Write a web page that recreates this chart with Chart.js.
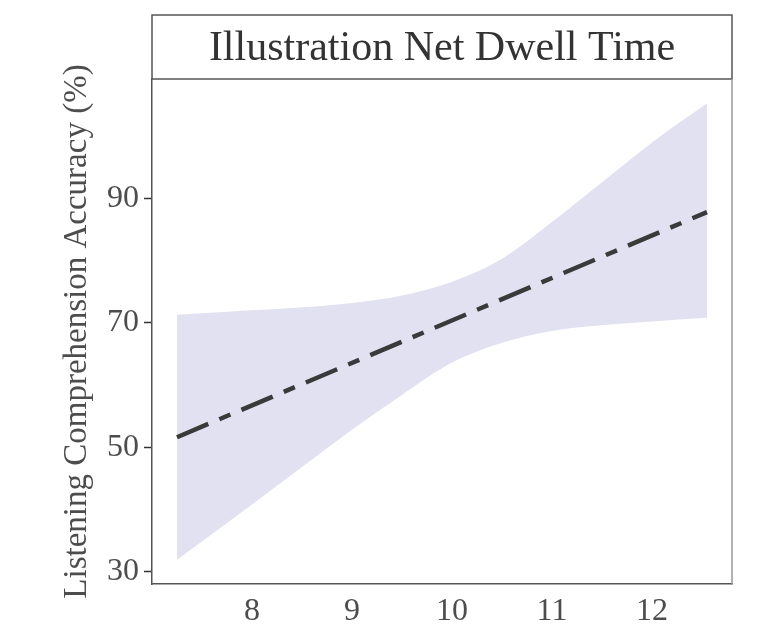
<!DOCTYPE html>
<html>

<head>
    <title>Illustration Net Dwell Time</title>
    <meta charset="UTF-8">
    <script src="https://cdn.jsdelivr.net/npm/chart.js@4.4.0/dist/chart.umd.min.js"></script>
    <style>
        body { margin: 0; background: #fff; }
    </style>
</head>

<body>
    <canvas id="myChart" width="758" height="627"></canvas>

    <script>
        // values
        var bandX = [7.25, 8, 8.5, 9, 9.5, 10, 10.5, 11, 11.5, 12, 12.55];
        var bandUpper = [71.3, 72, 72.5, 73.2, 74.4, 76.6, 80.3, 86.2, 92.6, 99, 105.3];
        var bandLower = [31.9, 40.8, 46.8, 52.8, 58.4, 63.6, 66.8, 68.7, 69.6, 70.2, 70.8];
        var fitX = [7.25, 12.55];
        var fitY = [51.6, 87.8];
        var xTicks = [8, 9, 10, 11, 12];
        var yTicks = [30, 50, 70, 90];
        var stripTitle = 'Illustration Net Dwell Time';

        function pairs(xs, ys) {
            return xs.map(function (x, i) { return { x: x, y: ys[i] }; });
        }

        var textColor = '#4d4d4d';
        var serif = '"Liberation Serif", "DejaVu Serif", serif';

        // facet strip on top of the panel + light right border
        var stripPlugin = {
            id: 'strip',
            afterDraw: function (chart) {
                var ctx = chart.ctx;
                var a = chart.chartArea;
                ctx.save();
                ctx.strokeStyle = '#555';
                ctx.lineWidth = 1.5;
                ctx.strokeRect(a.left, 15, a.right - a.left, a.top - 15);
                ctx.strokeStyle = '#999';
                ctx.beginPath();
                ctx.moveTo(a.right, a.top);
                ctx.lineTo(a.right, a.bottom);
                ctx.stroke();
                ctx.fillStyle = '#333';
                ctx.font = '42px ' + serif;
                ctx.textAlign = 'center';
                ctx.textBaseline = 'middle';
                ctx.fillText(stripTitle, (a.left + a.right) / 2, (15 + a.top) / 2 + 2);
                ctx.restore();
            }
        };

        var ctx = document.getElementById('myChart').getContext('2d');
        var chart = new Chart(ctx, {
            type: 'line',
            data: {
                datasets: [{
                    data: pairs(bandX, bandUpper),
                    backgroundColor: '#e2e1f1',
                    borderWidth: 0,
                    pointRadius: 0,
                    fill: '+1',
                    order: 1,
                    cubicInterpolationMode: 'monotone'
                }, {
                    data: pairs(bandX, bandLower),
                    borderWidth: 0,
                    pointRadius: 0,
                    fill: false,
                    order: 1,
                    cubicInterpolationMode: 'monotone'
                }, {
                    data: pairs(fitX, fitY),
                    borderColor: '#3a3a3a',
                    borderWidth: 4.5,
                    borderDash: [34, 12, 12, 12],
                    pointRadius: 0,
                    fill: false,
                    order: 0
                }]
            },
            options: {
                responsive: false,
                animation: false,
                layout: { padding: { left: 0, top: 79, right: 26, bottom: 0 } },
                plugins: {
                    legend: { display: false },
                    tooltip: { enabled: false }
                },
                scales: {
                    x: {
                        type: 'linear',
                        min: 7.0,
                        max: 12.8,
                        afterBuildTicks: function (s) { s.ticks = xTicks.map(function (v) { return { value: v }; }); },
                        afterFit: function (s) { s.height = 43; },
                        grid: { display: true, drawOnChartArea: false, drawTicks: false },
                        border: { color: '#555', width: 1.5 },
                        ticks: { color: textColor, font: { family: serif, size: 32 }, padding: 8, maxRotation: 0 }
                    },
                    y: {
                        min: 28,
                        max: 109.2,
                        afterBuildTicks: function (s) { s.ticks = yTicks.map(function (v) { return { value: v }; }); },
                        afterFit: function (s) { s.width = 152; },
                        grid: { display: true, drawOnChartArea: false, tickLength: 8, tickWidth: 1.5, tickColor: '#333' },
                        border: { color: '#555', width: 1.5 },
                        ticks: { color: textColor, font: { family: serif, size: 32 }, padding: 5 },
                        title: {
                            display: true,
                            text: 'Listening Comprehension Accuracy (%)',
                            color: textColor,
                            font: { family: serif, size: 33 },
                            padding: { top: 58, bottom: 0 }
                        }
                    }
                }
            },
            plugins: [stripPlugin]
        });
    </script>

</body>

</html>
